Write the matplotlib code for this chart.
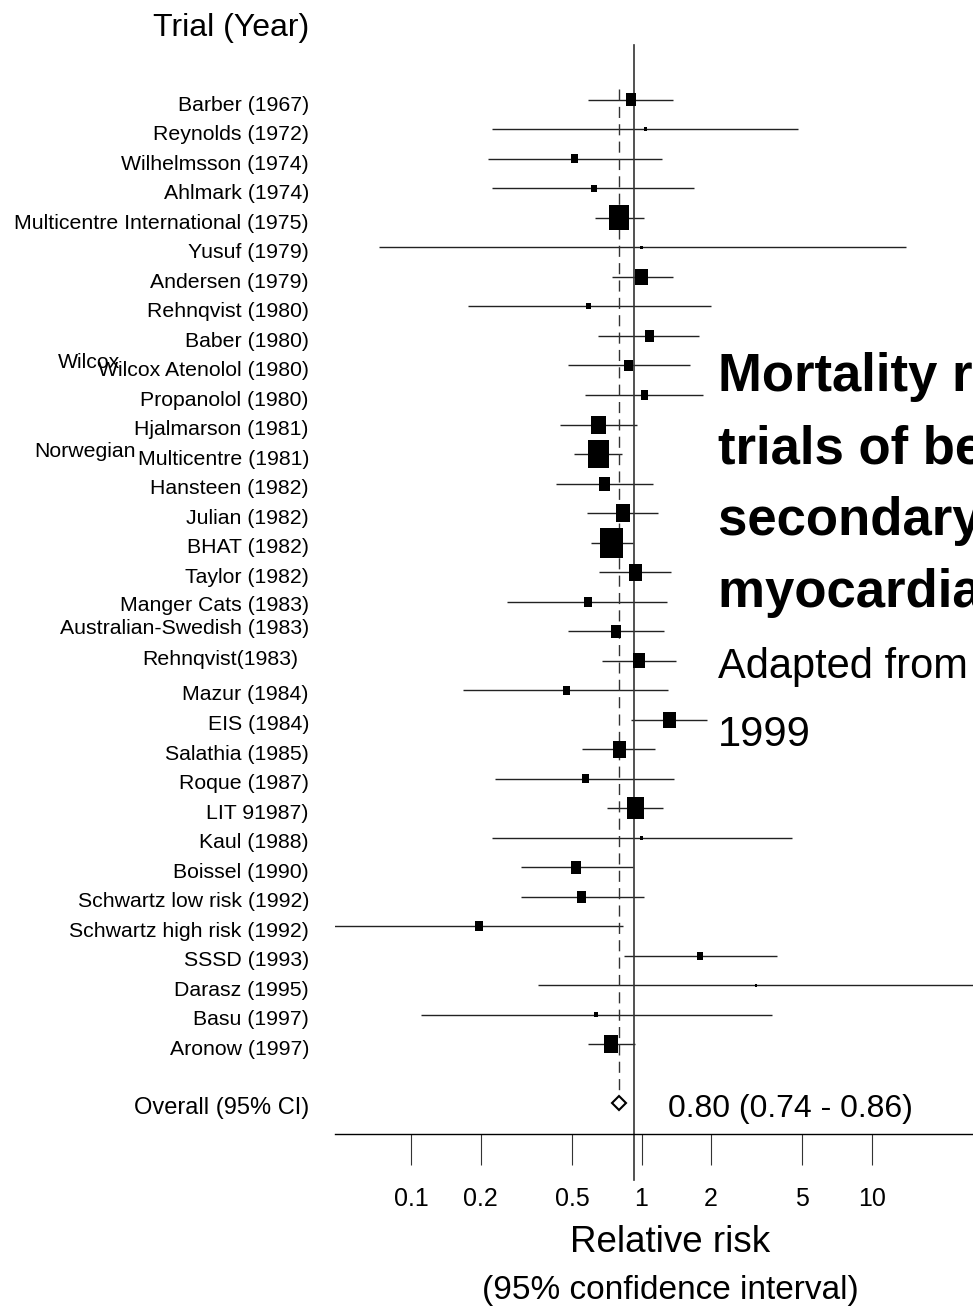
import numpy as np
import matplotlib
matplotlib.use('Agg')
import matplotlib.pyplot as plt
from matplotlib.transforms import blended_transform_factory

plt.rcParams['font.family'] = ['Liberation Sans', 'DejaVu Sans']

# Data: trials, relative risk and 95% CI
trials = ["Barber (1967)", "Reynolds (1972)", "Wilhelmsson (1974)", "Ahlmark (1974)",
          "Multicentre International (1975)", "Yusuf (1979)", "Andersen (1979)",
          "Rehnqvist (1980)", "Baber (1980)", "Wilcox Atenolol (1980)", "Propanolol (1980)",
          "Hjalmarson (1981)", "Multicentre (1981)", "Hansteen (1982)", "Julian (1982)",
          "BHAT (1982)", "Taylor (1982)", "Manger Cats (1983)", "Australian-Swedish (1983)",
          "Rehnqvist(1983)", "Mazur (1984)", "EIS (1984)", "Salathia (1985)", "Roque (1987)",
          "LIT 91987)", "Kaul (1988)", "Boissel (1990)", "Schwartz low risk (1992)",
          "Schwartz high risk (1992)", "SSSD (1993)", "Darasz (1995)", "Basu (1997)",
          "Aronow (1997)"]
rr = [0.90, 1.04, 0.51, 0.62, 0.80, 1.00, 1.00, 0.59, 1.08, 0.88, 1.03,
      0.65, 0.65, 0.69, 0.83, 0.74, 0.94, 0.585, 0.775, 0.975, 0.47, 1.32,
      0.80, 0.57, 0.94, 1.00, 0.52, 0.55, 0.197, 1.80, 3.15, 0.634, 0.74]
ci_low = [0.585, 0.224, 0.215, 0.224, 0.628, 0.072, 0.744, 0.176, 0.647, 0.479, 0.568,
          0.442, 0.509, 0.425, 0.579, 0.603, 0.653, 0.26, 0.479, 0.673, 0.167, 0.90,
          0.551, 0.231, 0.708, 0.224, 0.299, 0.299, 0.04, 0.839, 0.355, 0.11, 0.585]
ci_high = [1.37, 4.79, 1.23, 1.69, 1.025, 14.1, 1.37, 2.0, 1.78, 1.62, 1.85,
           0.956, 0.823, 1.12, 1.18, 0.918, 1.34, 1.29, 1.25, 1.41, 1.30, 1.93,
           1.14, 1.38, 1.24, 4.51, 0.918, 1.025, 0.831, 3.88, 30.0, 3.69, 0.937]
# relative study weight (size of the square)
weights = [13, 4, 9, 7, 25, 3, 16, 6, 12, 11, 10, 18, 28, 14, 18, 30, 17, 10, 13, 15,
           9, 16, 17, 9, 22, 4, 13, 12, 10, 8, 3, 5, 18]

overall_rr = 0.80
overall_low = 0.74
overall_high = 0.86

ticks = [0.1, 0.2, 0.5, 1, 2, 5, 10]
tick_labels = ['0.1', '0.2', '0.5', '1', '2', '5', '10']

W, H = 973, 1316
fig = plt.figure(figsize=(W / 100, H / 100), dpi=100)
ax = fig.add_axes([335 / W, 1 - 1134 / H, (W - 335) / W, (1134 - 45) / H])

rows = np.arange(len(trials))
overall_row = len(trials) + 1

ax.set_xscale('log')
ax.set_xlim(0.0465, 27.6)
ax.set_ylim(35.05, -1.864)

# confidence intervals
ax.hlines(rows, ci_low, ci_high, color='#222222', lw=1.0)

# squares sized by weight (slightly taller than wide)
box = [(-0.39, -0.5), (0.39, -0.5), (0.39, 0.5), (-0.39, 0.5), (-0.39, -0.5)]
sizes = (np.array(weights) * 0.72) ** 2
ax.scatter(rr, rows, s=sizes, marker=box, color='black', linewidths=0, zorder=3)

# line of no effect and pooled estimate
ax.plot([0.93, 0.93], [-1.864, 36.6], color='#333333', lw=1.2, clip_on=False)
ax.plot([overall_rr, overall_rr], [-0.37, overall_row - 0.3], color='#333333',
        lw=1.0, ls=(0, (8, 4.5)))
ax.plot([overall_rr], [overall_row], marker='D', ms=7, mfc='white', mec='black', mew=1.5)

# axes styling
for side in ['top', 'right', 'left']:
    ax.spines[side].set_visible(False)
ax.spines['bottom'].set_linewidth(1.0)
ax.set_yticks([])
ax.set_xticks(ticks)
ax.set_xticklabels(tick_labels)
ax.minorticks_off()
ax.tick_params(axis='x', direction='out', length=22, width=0.8, color='#333333',
               labelsize=18, pad=16)

# trial labels
tr = blended_transform_factory(fig.transFigure, ax.transData)
nudge = {17: 0.15, 18: -0.07, 19: -0.05, 20: 0.14}
for i, name in enumerate(trials):
    x = 298 / W if name == "Rehnqvist(1983)" else 309 / W
    ax.text(x, i + nudge.get(i, 0.17), name, transform=tr, ha='right', va='center',
            fontsize=15.3)
ax.text(58 / W, 9 - 0.1, "Wilcox", transform=tr, ha='left', va='center', fontsize=15.3)
ax.text(34 / W, 12 - 0.08, "Norwegian", transform=tr, ha='left', va='center', fontsize=15.3)
ax.text(309 / W, overall_row + 0.17, "Overall (95% CI)", transform=tr, ha='right',
        va='center', fontsize=17)
ax.text(668 / W, overall_row + 0.2,
        "%.2f (%.2f - %.2f)" % (overall_rr, overall_low, overall_high),
        transform=tr, ha='left', va='center', fontsize=23)

fig.text(309 / W, 1 - 28 / H, "Trial (Year)", ha='right', va='center', fontsize=23)

# axis title
fig.text(670.5 / W, 1 - 1242 / H, "Relative risk", ha='center', va='center', fontsize=26.5)
fig.text(670.5 / W, 1 - 1290 / H, "(95% confidence interval)", ha='center', va='center',
         fontsize=24)

# chart title (runs off the right edge in the original slide)
title_lines = ["Mortality results from", "trials of beta-blockers in",
               "secondary prevention after", "myocardial infarction"]
for k, line in enumerate(title_lines):
    fig.text(718 / W, 1 - (377 + 72 * k) / H, line, ha='left', va='center',
             fontsize=38, fontweight='bold')
fig.text(718 / W, 1 - 667 / H, "Adapted from Freemantle et al. BMJ", ha='left',
         va='center', fontsize=30)
fig.text(718 / W, 1 - 735 / H, "1999", ha='left', va='center', fontsize=30)

fig.savefig('out.png', dpi=100, facecolor='white')
